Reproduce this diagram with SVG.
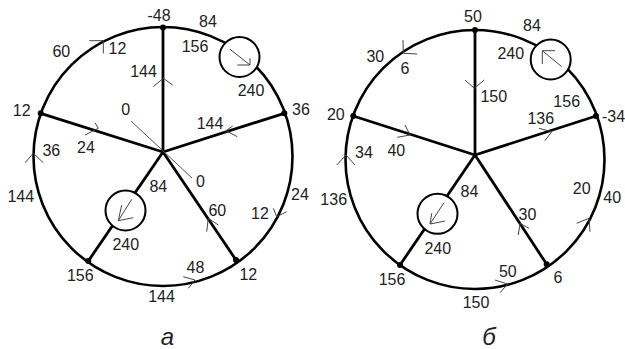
<svg xmlns="http://www.w3.org/2000/svg" width="625" height="349" viewBox="0 0 625 349">
<style>
.ring{fill:none;stroke:#000;stroke-width:2.6}
.edge{stroke:#000;stroke-width:2.8;fill:none}
.src{fill:#fff;stroke:#000;stroke-width:2}
.node{fill:#000}
.arr{fill:none;stroke:#444;stroke-width:1}
.thin{stroke:#555;stroke-width:1;fill:none}
text{font-family:"Liberation Sans",Arial,sans-serif;font-size:16px;fill:#222;text-anchor:middle}
.cap{font-size:24px;font-style:italic}
</style>
<g id="connectors">
<circle class="ring" cx="163" cy="156.5" r="129.5"/>
<line class="edge" x1="163" y1="152" x2="163" y2="27.5"/>
<line class="edge" x1="163" y1="152" x2="40.7" y2="113.3"/>
<line class="edge" x1="163" y1="152" x2="284.3" y2="113.3"/>
<line class="edge" x1="163" y1="152" x2="88.3" y2="261"/>
<line class="edge" x1="163" y1="152" x2="236" y2="260"/>
<line class="thin" x1="131" y1="121" x2="192" y2="178"/>
<polyline class="arr" points="89.3,40.7 103.3,40.7 103.3,53.3"/>
<polyline class="arr" points="153.3,86.7 163.3,78.3 172.7,85"/>
<polyline class="arr" points="232.7,126 226,130.7 237.3,136.7"/>
<polyline class="arr" points="95,122.7 98.3,128.3 85,135"/>
<polyline class="arr" points="25,162.7 33.3,153.3 43.3,162.7"/>
<polyline class="arr" points="206.7,231.7 208.3,218.3 218.3,225"/>
<polyline class="arr" points="273.3,208.3 276.7,216.7 286.7,211.7"/>
<polyline class="arr" points="183.3,276.7 195,280 188.3,288.3"/>

<circle class="ring" cx="475" cy="159.5" r="129.5"/>
<line class="edge" x1="475" y1="155" x2="475" y2="30"/>
<line class="edge" x1="475" y1="155" x2="353.3" y2="116"/>
<line class="edge" x1="475" y1="155" x2="596" y2="116"/>
<line class="edge" x1="475" y1="155" x2="400" y2="265"/>
<line class="edge" x1="475" y1="155" x2="546.7" y2="264.3"/>
<polyline class="arr" points="403,40 403.3,53.3 417,54"/>
<polyline class="arr" points="465,80 474.3,88.3 484.3,80"/>
<polyline class="arr" points="539,128.3 551.7,131.7 545,140.7"/>
<polyline class="arr" points="405,125 410,135 397.3,137.3"/>
<polyline class="arr" points="336.7,165 346,155 355,165"/>
<polyline class="arr" points="518.3,235 520,223.3 529,228.3"/>
<polyline class="arr" points="576.7,223.3 589,218.3 590,231.7"/>
<polyline class="arr" points="495,280 507.7,284 500,292.7"/>
</g>
<g id="a-source-top">
<circle class="src" cx="239.5" cy="57" r="20"/>
<polyline class="arr" points="230,49.3 250,65"/>
<polyline class="arr" points="237.3,65 250,65 250,58.3"/>
</g>
<g id="a-source-low">
<circle class="src" cx="125.5" cy="210.5" r="20"/>
<polyline class="arr" points="131.7,199.3 118.3,220.7"/>
<polyline class="arr" points="133.3,217.7 118.3,220.7 121.7,205"/>
</g>
<g id="b-source-top">
<circle class="src" cx="550.7" cy="59.5" r="20"/>
<polyline class="arr" points="561.7,66.7 542.3,50.7"/>
<polyline class="arr" points="555,50.7 542.3,50.7 542.3,64"/>
</g>
<g id="b-source-low">
<circle class="src" cx="437.5" cy="213.8" r="20"/>
<polyline class="arr" points="444,202.7 430,224"/>
<polyline class="arr" points="445,221 430,224 431.7,213.3"/>
</g>
<g id="a-nodes">
<circle class="node" cx="163" cy="27.5" r="3"/>
<circle class="node" cx="40.7" cy="113.3" r="3"/>
<circle class="node" cx="284.3" cy="113.3" r="3"/>
<circle class="node" cx="88.3" cy="261" r="3"/>
<circle class="node" cx="236" cy="260" r="3"/>
</g>
<g id="b-nodes">
<circle class="node" cx="475" cy="30" r="3"/>
<circle class="node" cx="353.3" cy="116" r="3"/>
<circle class="node" cx="596" cy="116" r="3"/>
<circle class="node" cx="400" cy="265" r="3"/>
<circle class="node" cx="546.7" cy="264.3" r="3"/>
</g>
<g id="a-labels">
<text x="159" y="20.7">-48</text>
<text x="208" y="26.5">84</text>
<text x="195" y="52">156</text>
<text x="251" y="95.5">240</text>
<text x="301" y="115">36</text>
<text x="210" y="129">144</text>
<text x="143.5" y="77">144</text>
<text x="61.3" y="57">60</text>
<text x="117.5" y="54">12</text>
<text x="21.7" y="116">12</text>
<text x="125.7" y="115">0</text>
<text x="51.3" y="156">36</text>
<text x="86" y="153">24</text>
<text x="20.8" y="201.5">144</text>
<text x="158.3" y="191.5">84</text>
<text x="125.8" y="250">240</text>
<text x="80.3" y="281">156</text>
<text x="200.5" y="186.5">0</text>
<text x="300" y="200">24</text>
<text x="217.3" y="216">60</text>
<text x="260" y="219">12</text>
<text x="195.5" y="272.5">48</text>
<text x="248.3" y="280">12</text>
<text x="161.5" y="301.5">144</text>
<text class="cap" x="167.5" y="345">а</text>
</g>
<g id="b-labels">
<text x="473" y="21.5">50</text>
<text x="532" y="30.5">84</text>
<text x="510.8" y="59">240</text>
<text x="566.7" y="106.5">156</text>
<text x="613.5" y="121.5">-34</text>
<text x="493.8" y="101.5">150</text>
<text x="540.8" y="124">136</text>
<text x="375.3" y="62">30</text>
<text x="405" y="74">6</text>
<text x="335.8" y="120">20</text>
<text x="364" y="158">34</text>
<text x="396.3" y="156">40</text>
<text x="333.7" y="205">136</text>
<text x="469.5" y="196.5">84</text>
<text x="437.8" y="254">240</text>
<text x="392" y="285">156</text>
<text x="527.5" y="220">30</text>
<text x="581.7" y="194">20</text>
<text x="612.2" y="203">40</text>
<text x="507.8" y="276.5">50</text>
<text x="558" y="282.5">6</text>
<text x="476" y="308">150</text>
<text class="cap" x="489" y="345">б</text>
</g>
</svg>
